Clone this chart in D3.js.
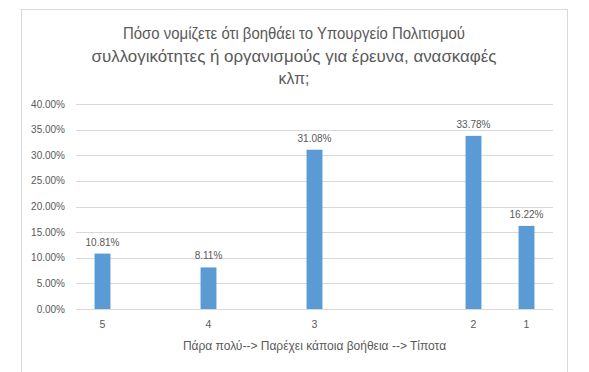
<!DOCTYPE html>
<html>
<head>
<meta charset="utf-8">
<script src="https://cdn.jsdelivr.net/npm/d3@7"></script>
<style>
  body { margin: 0; background: #fff; }
  text { font-family: "Liberation Sans", Arial, sans-serif; fill: #595959; }
</style>
</head>
<body>
<div id="chart"></div>
<script>
var titleLines = ["Πόσο νομίζετε ότι βοηθάει το Υπουργείο Πολιτισμού",
                  "συλλογικότητες ή οργανισμούς για έρευνα, ανασκαφές",
                  "κλπ;"];
var titleWidths = [342, 405, 31];
// slots on the x axis, blank ones are empty categories
var categories = ["5", "_a", "4", "_b", "3", "_c", "_d", "2", "1"];
var labels = ["5", "", "4", "", "3", "", "", "2", "1"];
var values = [0.1081, null, 0.0811, null, 0.3108, null, null, 0.3378, 0.1622];
var yTicks = [0, 0.05, 0.10, 0.15, 0.20, 0.25, 0.30, 0.35, 0.40];
var xTitle = "Πάρα πολύ--> Παρέχει κάποια βοήθεια --> Τίποτα";

var W = 589, H = 372;
var svg = d3.select("#chart").append("svg")
    .attr("width", W)
    .attr("height", H);

svg.append("rect")
    .attr("x", 21.5).attr("y", 9.5)
    .attr("width", 546).attr("height", 400)
    .attr("fill", "#fff")
    .attr("stroke", "#d9d9d9");

svg.selectAll(".title")
    .data(titleLines)
    .enter().append("text")
      .attr("class", "title")
      .attr("x", 294)
      .attr("y", function(d, i) { return 39 + i * 22.5; })
      .attr("text-anchor", "middle")
      .attr("textLength", function(d, i) { return titleWidths[i]; })
      .attr("lengthAdjust", "spacingAndGlyphs")
      .style("font-size", "17px")
      .text(function(d) { return d; });

var x = d3.scaleBand()
    .domain(categories)
    .range([76, 553])
    .paddingInner(0.7)
    .paddingOuter(0.35);

var y = d3.scaleLinear()
    .domain([0, 0.4])
    .range([309, 104]);

var g = svg.append("g");

g.selectAll(".grid")
    .data(yTicks)
    .enter().append("line")
      .attr("x1", 76).attr("x2", 553)
      .attr("y1", function(d) { return Math.round(y(d)) + 0.5; })
      .attr("y2", function(d) { return Math.round(y(d)) + 0.5; })
      .attr("stroke", "#d9d9d9");

g.selectAll(".ylab")
    .data(yTicks)
    .enter().append("text")
      .attr("x", 65)
      .attr("y", function(d) { return y(d) + 3.5; })
      .attr("text-anchor", "end")
      .style("font-size", "10px")
      .text(function(d) { return d3.format(".2%")(d); });

var data = categories.map(function(c, i) { return {cat: c, label: labels[i], value: values[i]}; });
var bars = data.filter(function(d) { return d.value != null; });

g.selectAll(".bar")
    .data(bars)
    .enter().append("rect")
      .attr("x", function(d) { return x(d.cat); })
      .attr("y", function(d) { return y(d.value); })
      .attr("width", x.bandwidth())
      .attr("height", function(d) { return y(0) - y(d.value); })
      .attr("fill", "#5b9bd5");

g.selectAll(".val")
    .data(bars)
    .enter().append("text")
      .attr("x", function(d) { return x(d.cat) + x.bandwidth() / 2; })
      .attr("y", function(d) { return y(d.value) - 8; })
      .attr("text-anchor", "middle")
      .style("font-size", "10px")
      .text(function(d) { return d3.format(".2%")(d.value); });

g.selectAll(".xlab")
    .data(data)
    .enter().append("text")
      .attr("x", function(d) { return x(d.cat) + x.bandwidth() / 2; })
      .attr("y", 328)
      .attr("text-anchor", "middle")
      .style("font-size", "10.5px")
      .text(function(d) { return d.label; });

svg.append("text")
    .attr("x", 314.5)
    .attr("y", 350)
    .attr("text-anchor", "middle")
    .style("font-size", "12px")
    .text(xTitle);
</script>
</body>
</html>
